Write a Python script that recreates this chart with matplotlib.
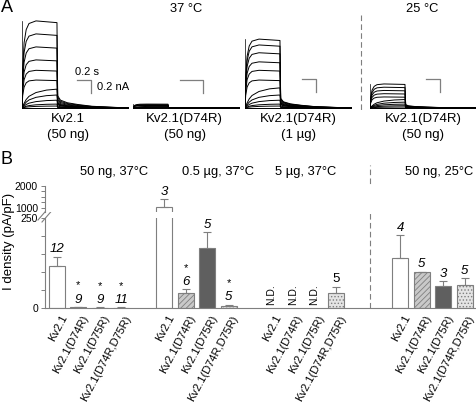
import numpy as np
import matplotlib
matplotlib.use("Agg")
import matplotlib.pyplot as plt
from matplotlib.lines import Line2D
import matplotlib.transforms as mtransforms

plt.rcParams['font.family'] = ['Liberation Sans', 'DejaVu Sans']
plt.rcParams['hatch.linewidth'] = 0.6

W, H = 477, 404
GRAY = '#7f7f7f'

# ---------------- panel A : current traces ----------------
panel_names = ["Kv2.1", "Kv2.1(D74R)", "Kv2.1(D74R)", "Kv2.1(D74R)"]
panel_doses = ["(50 ng)", "(50 ng)", "(1 \u00b5g)", "(50 ng)"]
panel_left_px = [22, 133, 245, 370]
label_t = [0.66, 0.74, 0.76, 0.76]

# plateau amplitude of each sweep (nA)
amps_nA = [
    [1.34, 1.14, 0.94, 0.74, 0.58, 0.43, 0.29, 0.20, 0.12, 0.06, 0.03, 0.0],
    [0.06, 0.05, 0.045, 0.04, 0.035, 0.03, 0.02, 0.015, 0.01, 0.005, 0.0],
    [1.06, 0.97, 0.85, 0.71, 0.58, 0.43, 0.31, 0.20, 0.12, 0.06, 0.03, 0.0],
    [0.37, 0.32, 0.27, 0.22, 0.17, 0.13, 0.09, 0.06, 0.035, 0.015, 0.0],
]
# normalised sweep shape (time in s)
t_s = [0.0, 0.01, 0.03, 0.06, 0.10, 0.20, 0.35, 0.50, 0.51, 0.55, 0.65, 0.80, 1.00, 1.25, 1.53]
shape_fast = [0.0, 0.45, 0.75, 0.90, 0.97, 1.0, 0.99, 0.98, 0.14, 0.09, 0.06, 0.04, 0.02, 0.01, 0.0]
shape_slow = [0.0, 0.10, 0.25, 0.45, 0.62, 0.82, 0.95, 1.0, 0.25, 0.16, 0.10, 0.06, 0.03, 0.01, 0.0]

# scale bars: start time, length (s), height level (nA)
sb_t = [0.79, 0.67, 0.81, 0.80]
sb_len = [0.2, 0.33, 0.2, 0.2]
sb_y = [0.43, 0.43, 0.45, 0.45]
sb_h = 0.2

# ---------------- panel B : current density ----------------
groups = ["50 ng, 37\u00b0C", "0.5 \u00b5g, 37\u00b0C", "5 \u00b5g, 37\u00b0C", "50 ng, 25\u00b0C"]
group_title_x = [2.66, 7.5, 11.6, 17.8]
constructs = ["Kv2.1", "Kv2.1(D74R)", "Kv2.1(D75R)", "Kv2.1(D74R,D75R)"]
group_start = [0, 5, 10, 16]
means = [[117, 2, 1, 1], [1045, 43, 166, 6], [0, 0, 0, 41], [140, 99, 62, 65]]
errs = [[25, 1, 1, 1], [365, 9, 44, 3], [0, 0, 0, 18], [62, 2, 13, 17]]
n_labels = [["12", "9", "9", "11"], ["3", "6", "5", "5"], ["", "", "", "5"], ["4", "5", "3", "5"]]
stars = [[0, 1, 1, 1], [0, 1, 1, 1], [0, 0, 0, 0], [0, 0, 0, 0]]
not_done = [[0, 0, 0, 0], [0, 0, 0, 0], [1, 1, 1, 0], [0, 0, 0, 0]]
italic_n = [True, True, False, True]

fills = ['white', '#c9c9c9', '#5f5f5f', '#e4e4e4']
hatches = [None, '//////', None, '.....']


def box(l, t, r, b):
    return [l / W, 1 - b / H, (r - l) / W, (b - t) / H]


fig = plt.figure(figsize=(W / 100, H / 100), dpi=100)

# ---- A
for k in range(4):
    l = panel_left_px[k]
    ax = fig.add_axes(box(l, 12, l + 107, 112))
    ax.set_xlim(0, 1.53)
    ax.set_ylim(-4 / 65, 96 / 65)
    ax.axis('off')
    n = len(amps_nA[k])
    for i, a in enumerate(amps_nA[k]):
        shp = shape_fast if i < n // 2 else shape_slow
        ax.plot(t_s, [a * s for s in shp], color='black', lw=0.7)
    ax.plot([0, 0], [0, amps_nA[k][0]], color='black', lw=0.5)
    # scale bar
    x0 = sb_t[k]
    ax.plot([x0, x0 + sb_len[k], x0 + sb_len[k]], [sb_y[k], sb_y[k], sb_y[k] - sb_h],
            color=GRAY, lw=0.9, clip_on=False)
    if k == 0:
        ax.text(x0 - 0.03, sb_y[k] + 0.05, "0.2 s", fontsize=8, ha='left', va='bottom')
        ax.text(x0 + sb_len[k] + 0.08, sb_y[k] - sb_h / 2, "0.2 nA", fontsize=8,
                ha='left', va='center')
    ax.text(label_t[k], -0.175, panel_names[k], fontsize=9.5, ha='center', va='center', clip_on=False)
    ax.text(label_t[k], -0.42, panel_doses[k], fontsize=9.5, ha='center', va='center', clip_on=False)

fig.text(1 / W, 1 - 8 / H, "A", fontsize=13, ha='left', va='center')
fig.text(186 / W, 1 - 9 / H, "37 \u00b0C", fontsize=9.3, ha='center', va='center')
fig.text(422 / W, 1 - 9 / H, "25 \u00b0C", fontsize=9.3, ha='center', va='center')
fig.add_artist(Line2D([361 / W, 361 / W], [1 - 15 / H, 1 - 110 / H], transform=fig.transFigure,
                      color=GRAY, lw=0.8, ls=(0, (5, 3))))

# ---- B
slot_w = 21.45
x_left = -(57 - 45) / slot_w
x_right = x_left + 432 / slot_w
axl = fig.add_axes(box(45, 218, 477, 308))
axu = fig.add_axes(box(45, 186, 477, 212))
axl.set_xlim(x_left, x_right)
axu.set_xlim(x_left, x_right)
axl.set_ylim(0, 250)
axu.set_ylim(818, 2000)

for ax in (axl, axu):
    for s in ('top', 'right'):
        ax.spines[s].set_visible(False)
    ax.spines['left'].set_color(GRAY)
    ax.spines['bottom'].set_color(GRAY)
    ax.tick_params(axis='y', colors=GRAY, labelcolor='black', labelsize=7.5, length=3, width=0.7, pad=2)
axu.spines['bottom'].set_visible(False)
axu.set_xticks([])
axl.set_yticks(np.arange(0, 251, 50))
axl.set_yticklabels(['0', '', '', '', '', '250'])
axu.set_yticks([1000, 1250, 1500, 1750, 2000])
axu.set_yticklabels(['1000', '', '', '', '2000'])

xs_all = []
for g in range(4):
    xs = [group_start[g] + j for j in range(4)]
    xs_all += xs
    for j in range(4):
        m, e = means[g][j], errs[g][j]
        if not_done[g][j]:
            axl.text(xs[j], 8, "N.D.", rotation=90, fontsize=7.5, ha='center', va='bottom')
            continue
        for ax in (axl, axu):
            ax.bar(xs[j], m, width=0.75, color=fills[j], edgecolor=GRAY, linewidth=0.8,
                   hatch=hatches[j])
        tgt = axu if m > 250 else axl
        tgt.errorbar(xs[j], m, yerr=[[0], [e]], color=GRAY, lw=0.8, capsize=3, capthick=0.8)
        style = 'italic' if italic_n[g] else 'normal'
        tgt.annotate(n_labels[g][j], (xs[j], m + e), xytext=(0, 1), textcoords='offset points',
                     ha='center', va='bottom', fontsize=9.5, fontstyle=style)
        if stars[g][j]:
            tgt.annotate("*", (xs[j], m + e), xytext=(0, 12), textcoords='offset points',
                         ha='center', va='bottom', fontsize=8)
    axu.text(group_title_x[g], 1.0 + 14 / 26, groups[g], transform=mtransforms.blended_transform_factory(
        axu.transData, axu.transAxes), fontsize=9.3, ha='center', va='center')

axl.set_xticks(xs_all)
axl.set_xticklabels(constructs * 4, rotation=62, ha='right', va='top', rotation_mode='anchor', fontsize=8)
axl.tick_params(axis='x', length=0, pad=4)
shift = mtransforms.ScaledTranslation(3 / 100, 0, fig.dpi_scale_trans)
for lab in axl.get_xticklabels():
    lab.set_transform(lab.get_transform() + shift)

axl.set_ylabel("I density (pA/pF)", fontsize=9.5)
axl.yaxis.set_label_coords(-30 / 432, 0.74)

# axis break marks
for dx in (0, 4):
    axl.plot([(38 + dx - 45) / 432, (51 + dx - 45) / 432], [(308 - 220 - dx / 2) / 90, (308 - 205 - dx / 2) / 90],
             transform=axl.transAxes, color=GRAY, lw=0.8, clip_on=False)

# separator between temperatures
sep = mtransforms.blended_transform_factory(axl.transData, axl.transAxes)
axl.plot([14.6, 14.6], [0, (308 - 165) / 90], transform=sep, color=GRAY, lw=0.8,
         ls=(0, (5, 3)), clip_on=False)

fig.text(1 / W, 1 - 160 / H, "B", fontsize=13, ha='left', va='center')

fig.savefig("out.png", dpi=100)
